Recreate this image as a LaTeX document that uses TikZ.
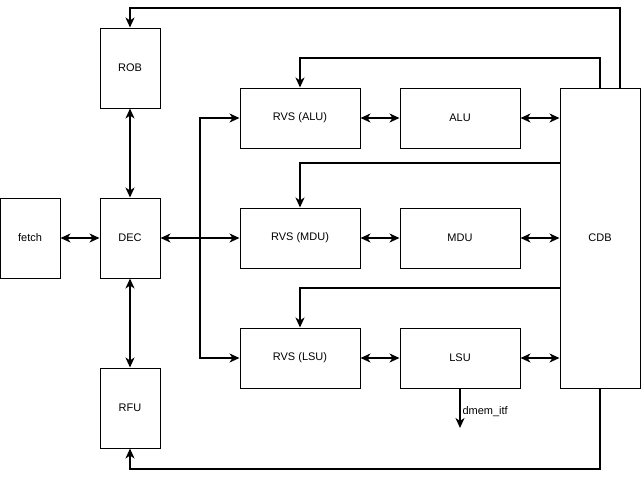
\documentclass[tikz,border=0pt]{standalone}
\usepackage{fontspec}
\setmainfont{Liberation Sans}
\usetikzlibrary{positioning, arrows.meta}
\tikzset{
    block/.style={draw, line width=1pt, inner sep=0pt, font=\fontsize{11}{13}\selectfont}, % every box
    unit/.style={block, minimum width=120pt, minimum height=60pt},
    tall/.style={block, minimum width=60pt, minimum height=80pt},
    tip/.tip={Stealth[length=10pt, width=9pt, inset=3pt]},
    wire/.style={line width=2pt, -tip}, % one way connector
    biwire/.style={line width=2pt, tip-tip}, % two way connector
}
\begin{document}
\begin{tikzpicture}[x=1pt, y=-1pt]
    \useasboundingbox (0,0) rectangle (641,477);
    \node[tall] (fetch) at (30,238) {fetch};
    \node[tall] (dec) at (130,238) {DEC};
    \node[tall] (rob) at (130,68) {ROB};
    \node[tall] (rfu) at (130,408) {RFU};
    \node[unit] (rvsa) at (300,118) {RVS (ALU)};
    \node[unit] (rvsm) at (300,238) {RVS (MDU)};
    \node[unit] (rvsl) at (300,358) {RVS (LSU)};
    \node[unit] (alu) at (460,118) {ALU};
    \node[unit] (mdu) at (460,238) {MDU};
    \node[unit] (lsu) at (460,358) {LSU};
    \node[block, minimum width=80pt, minimum height=300pt] (cdb) at (600,238) {CDB};
    \coordinate (bus) at (200,238);
    \coordinate (dmem) at (460,428);
    \node[block, draw=none, anchor=west] (dmemlabel) at (462,412) {dmem\_itf};
    % decode side
    \draw[biwire] (fetch) -- (dec);
    \draw[biwire] (rob) -- (dec);
    \draw[biwire] (dec) -- (rfu);
    \draw[biwire] (dec) -- (rvsm);
    \draw[wire] (bus) |- (rvsa);
    \draw[wire] (bus) |- (rvsl);
    % execution rows
    \draw[biwire] (rvsa) -- (alu);
    \draw[biwire] (rvsm) -- (mdu);
    \draw[biwire] (rvsl) -- (lsu);
    \draw[biwire] (alu) -- (alu -| cdb.west);
    \draw[biwire] (mdu) -- (cdb);
    \draw[biwire] (lsu) -- (lsu -| cdb.west);
    \draw[wire] (lsu) -- (dmem);
    % broadcast from CDB
    \draw[wire] ([xshift=20pt]cdb.north) -- ++(0,-80) -| (rob);
    \draw[wire] (cdb.north) -- ++(0,-30) -| (rvsa);
    \draw[wire] ([yshift=75pt]cdb.west) -| (rvsm);
    \draw[wire] ([yshift=-50pt]cdb.west) -| (rvsl);
    \draw[wire] (cdb.south) -- ++(0,80) -| (rfu);
\end{tikzpicture}
\end{document}
